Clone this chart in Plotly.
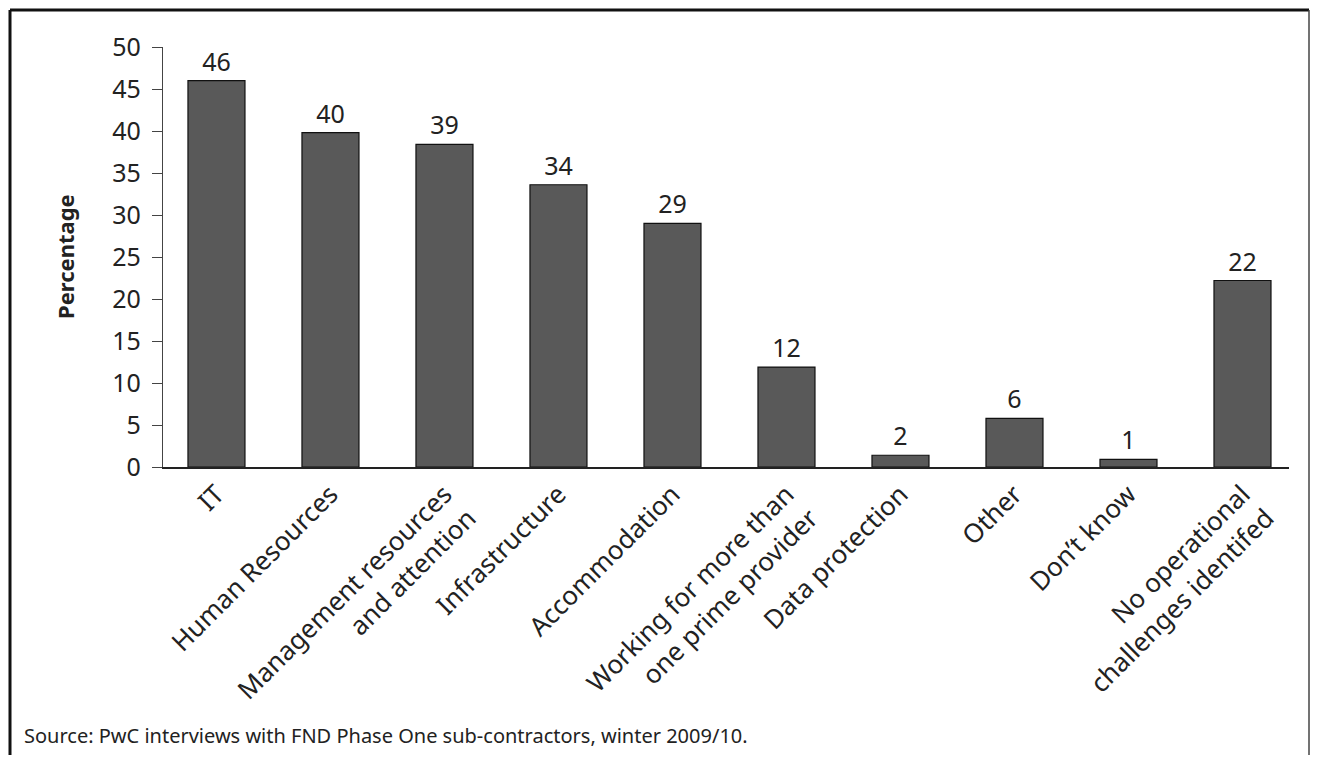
import plotly.graph_objects as go

categories = [
    "IT",
    "Human Resources",
    "Management resources<br>and attention",
    "Infrastructure",
    "Accommodation",
    "Working for more than<br>one prime provider",
    "Data protection",
    "Other",
    "Don\u2019t know",
    "No operational<br>challenges identifed",
]
values = [46.0, 39.8, 38.4, 33.6, 29.0, 11.9, 1.4, 5.8, 0.9, 22.2]
value_labels = ["46", "40", "39", "34", "29", "12", "2", "6", "1", "22"]
y_ticks = [0, 5, 10, 15, 20, 25, 30, 35, 40, 45, 50]

FONT = "Noto Sans"
OFF = 8  # page body margin
W, H = 1318 - 2 * OFF, 763 - 2 * OFF
# plot area on the page: x 163..1289, y 47..467
L, T = 163 - OFF, 47 - OFF
R = (OFF + W) - 1289
B = (OFF + H) - 467
pw, ph = W - L - R, H - T - B


def px(x):
    return (x - OFF - L) / pw


def py(y):
    return 1 - (y - OFF - T) / ph


fig = go.Figure(go.Bar(
    x=list(range(len(categories))), y=values,
    text=value_labels, textposition="outside", cliponaxis=False,
    textfont=dict(family=FONT, size=25, color="#222"),
    marker=dict(color="#595959", line=dict(color="#111", width=1.2)),
    width=0.5,
))

fig.update_xaxes(
    tickmode="array", tickvals=list(range(len(categories))), ticktext=categories,
    tickangle=-45, range=[-0.469, 9.408], showline=True, linecolor="#222",
    linewidth=1.5, ticks="", showgrid=False, zeroline=False,
    tickfont=dict(family=FONT, size=26, color="#222"),
)
fig.update_yaxes(
    range=[0, 50], tickvals=y_ticks, showline=True, linecolor="#444",
    linewidth=1.2, ticks="outside", ticklen=10, tickcolor="#444",
    showgrid=False, zeroline=False, ticklabelstandoff=6,
    tickfont=dict(family=FONT, size=25, color="#222"),
)

fig.add_annotation(
    text="<b>Percentage</b>", textangle=-90, xref="paper", yref="paper",
    x=px(65), y=py(257), xanchor="center", yanchor="middle", showarrow=False,
    font=dict(family=FONT, size=22, color="#222"),
)

# frame around the figure (open at the bottom)
x0, x1 = px(10), px(1309)
y_top, y_bot = py(10), py(770)
fig.add_shape(type="line", xref="paper", yref="paper", x0=x0, x1=x1, y0=y_top, y1=y_top,
              line=dict(color="#111", width=3))
fig.add_shape(type="line", xref="paper", yref="paper", x0=x0, x1=x0, y0=y_top, y1=y_bot,
              line=dict(color="#111", width=3))
fig.add_shape(type="line", xref="paper", yref="paper", x0=x1, x1=x1, y0=y_top, y1=y_bot,
              line=dict(color="#444", width=1.5))

fig.add_annotation(
    text="Source: PwC interviews with FND Phase One sub-contractors, winter 2009/10.",
    xref="paper", yref="paper", x=px(22), y=py(735),
    xanchor="left", yanchor="middle", showarrow=False,
    font=dict(family=FONT, size=20, color="#222"),
)

fig.update_layout(
    width=W, height=H, margin=dict(l=L, r=R, t=T, b=B),
    plot_bgcolor="white", paper_bgcolor="white", showlegend=False,
)
fig.write_html("out.html")
